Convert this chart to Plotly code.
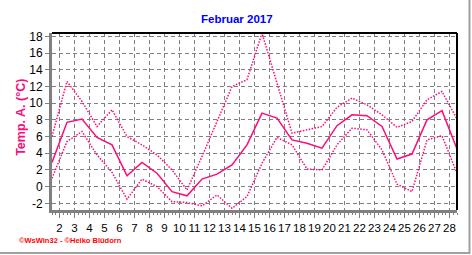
import plotly.graph_objects as go

days = list(range(1, 29))
t_mean = [2.9, 7.7, 8.1, 5.9, 5.0, 1.3, 2.9, 1.6, -0.6, -1.1, 0.9, 1.5, 2.6, 5.0,
          8.8, 8.2, 5.6, 5.2, 4.6, 7.3, 8.6, 8.5, 7.2, 3.3, 3.9, 8.0, 9.1, 4.5]
t_max = [6.0, 12.6, 10.2, 7.2, 9.2, 6.0, 5.0, 3.8, 2.0, -0.4, 3.6, 7.8, 12.0, 12.8,
         18.4, 12.4, 6.4, 6.8, 7.2, 9.5, 10.6, 9.8, 8.6, 7.1, 7.8, 10.4, 11.4, 8.1]
t_min = [1.0, 5.4, 6.6, 3.8, 1.7, -1.5, 0.9, 0.0, -1.8, -1.9, -2.3, -1.0, -2.6, -1.2,
         2.8, 5.9, 5.0, 2.1, 2.0, 5.0, 7.0, 6.8, 4.4, 0.3, -0.6, 5.6, 6.1, 1.6]
x_labels = [str(k) for k in range(2, 29)]
y_ticks = list(range(-2, 19, 2))

# daily values are placed at the middle of each day
xpos = [d + 0.5 for d in days]

LINE = "#FF0A78"
FONT = "Liberation Sans, Arial, sans-serif"

fig = go.Figure()
fig.add_trace(go.Scatter(x=xpos, y=t_max, mode="lines",
                         line=dict(color=LINE, width=1.5, dash="1.5px,1.5px")))
fig.add_trace(go.Scatter(x=xpos, y=t_min, mode="lines",
                         line=dict(color=LINE, width=1.5, dash="1.5px,1.5px")))
fig.add_trace(go.Scatter(x=xpos, y=t_mean, mode="lines",
                         line=dict(color=LINE, width=1.5)))

W, H = 472, 255
ml, mr, mt, mb = 52, 15, 33.3, 45
pw, ph = W - ml - mr, H - mt - mb

def px2paper_x(px):
    return (px - ml) / pw

def px2paper_y(py):
    return (H - mb - py) / ph

fig.update_layout(
    width=W, height=H,
    margin=dict(l=ml, r=mr, t=mt, b=mb, pad=0),
    paper_bgcolor="white", plot_bgcolor="white",
    showlegend=False,
    font=dict(family=FONT, size=12, color="black"),
    xaxis=dict(
        range=[1.5, 28.5], tickmode="array",
        tickvals=[int(s) for s in x_labels], ticktext=x_labels,
        tickangle=0,
        showgrid=True, gridcolor="#808080", gridwidth=1, griddash="4px,3px",
        zeroline=False, showline=True, linecolor="#808080", linewidth=3,
        ticks="outside", ticklen=5, tickcolor="#808080", tickwidth=1,
        minor=dict(dtick=0.25, tick0=0, ticks="outside", ticklen=2,
                   tickcolor="#808080", showgrid=False),
        tickfont=dict(size=11.5, family=FONT, color="black"),
        fixedrange=True,
    ),
    yaxis=dict(
        range=[-2.8, 18.4], tickmode="array",
        tickvals=y_ticks, ticktext=[str(v) for v in y_ticks],
        showgrid=True, gridcolor="#808080", gridwidth=1, griddash="4px,3px",
        zeroline=False, showline=True, linecolor="#808080", linewidth=3,
        ticks="outside", ticklen=4, tickcolor="#808080", tickwidth=1,
        tickfont=dict(size=12, family=FONT, color="black"),
        fixedrange=True,
    ),
    shapes=[
        dict(type="line", xref="paper", yref="paper", x0=0, x1=1, y0=1, y1=1,
             line=dict(color="black", width=2)),
        dict(type="line", xref="paper", yref="paper", x0=1, x1=1, y0=0, y1=1,
             line=dict(color="black", width=2)),
        dict(type="line", xref="paper", yref="paper",
             x0=px2paper_x(469.5), x1=px2paper_x(469.5),
             y0=px2paper_y(0), y1=px2paper_y(254),
             line=dict(color="#A0A0A0", width=2)),
        dict(type="line", xref="paper", yref="paper",
             x0=px2paper_x(0), x1=px2paper_x(470),
             y0=px2paper_y(253), y1=px2paper_y(253),
             line=dict(color="#A0A0A0", width=2)),
    ],
    annotations=[
        dict(text="<b>Februar 2017</b>", xref="paper", yref="paper",
             x=px2paper_x(237), y=px2paper_y(19), xanchor="center", yanchor="middle",
             showarrow=False, font=dict(size=11.5, color="#0000FF", family=FONT)),
        dict(text="<b>Temp. A. (°C)</b>", xref="paper", yref="paper",
             x=px2paper_x(21), y=px2paper_y(118), xanchor="center", yanchor="middle",
             textangle=-90, showarrow=False,
             font=dict(size=12.5, color=LINE, family=FONT)),
        dict(text="<b>©WsWin32 - ©Heiko Blüdorn</b>", xref="paper", yref="paper",
             x=px2paper_x(17), y=px2paper_y(240), xanchor="left", yanchor="middle",
             showarrow=False, font=dict(size=7.5, color="#FF0000", family=FONT)),
    ],
)

fig.write_html("out.html")
